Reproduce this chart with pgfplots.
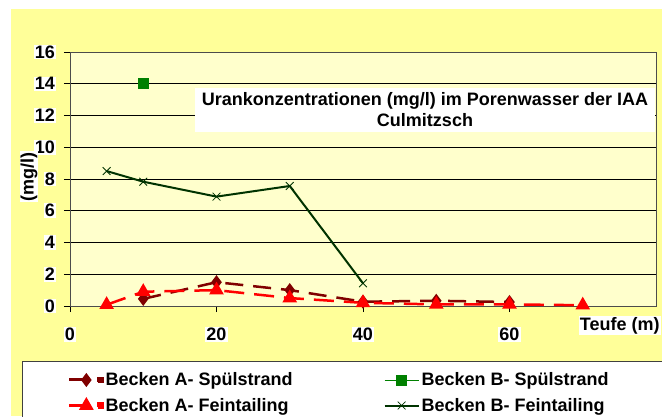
\documentclass[border=0pt]{standalone}
\usepackage{fontspec}
\setmainfont{Liberation Sans}
\usepackage{pgfplots}
\pgfplotsset{compat=1.18}
\definecolor{bgyellow}{HTML}{FFFF99}
\definecolor{plotyellow}{HTML}{FFFFCC}
\definecolor{darkred}{HTML}{800000}
\definecolor{darkgreen}{HTML}{003300}
\definecolor{midgreen}{HTML}{008000}
\newcommand\lf{\bfseries\fontsize{18}{21}\selectfont}
\begin{document}
\begin{tikzpicture}
\path[use as bounding box] (0,0) rectangle (662pt,416pt);
\clip (0,0) rectangle (662pt,416pt);
\fill[white] (0,0) rectangle (662pt,416pt);
\fill[bgyellow] (11pt,0) rectangle (662pt,407pt);
\draw[gray!50!black, fill=white, line width=0.8pt] (22pt,-10pt) rectangle (700pt,55pt);
\begin{axis}[
  at={(70pt,110pt)}, anchor=south west, scale only axis,
  width=586pt, height=254pt,
  xmin=0, xmax=80, ymin=0, ymax=16,
  xtick={0,20,40,60}, ytick={0,2,...,16},
  ymajorgrids, grid style={black, line width=0.6pt},
  axis background/.style={fill=plotyellow},
  axis line style={gray!60!black, line width=0.8pt},
  tick style={black, line width=0.6pt},
  tick align=outside, major tick length=6pt,
  xtick pos=left, ytick pos=left,
  /pgf/number format/assume math mode=true,
  ticklabel style={font=\lf, fill=white, inner sep=1pt},
  yticklabel style={xshift=-8pt},
  xticklabel style={yshift=-15pt},
  xlabel={Teufe (m)},
  xlabel style={at={(rel axis cs:0.868,-0.078)}, anchor=west, font=\lf, fill=white, inner sep=1pt},
  ylabel={(mg/l)},
  ylabel style={at={(rel axis cs:-0.070,0.508)}, anchor=center, font=\lf, fill=white, inner sep=1pt},
  clip=false,
  legend style={at={(rel axis cs:-0.004,-0.254)}, anchor=north west, draw=none, fill=none,
    font=\lf, inner sep=0pt, row sep=7pt,
    /tikz/every even column/.append style={column sep=89pt}},
  legend columns=2, legend cell align=left,
  legend image code/.code={\draw[mark repeat=2,mark phase=2] plot coordinates {(0pt,0pt) (17pt,0pt) (34pt,0pt)};},
]
\addplot[darkred, line width=2.5pt, dash pattern=on 18pt off 10pt, mark=diamond*, mark size=5pt, mark options={solid},
  legend image code/.code={\draw[solid, line width=3pt] (0pt,0pt)--(15pt,0pt); \draw[solid] plot coordinates {(17pt,0pt)}; \fill (29pt,-1.8pt) rectangle (33pt,1.8pt);}]
  coordinates {(10,0.45)(20,1.5)(30,1.0)(40,0.27)(50,0.33)(60,0.25)};
\addlegendentry{Becken A- Spülstrand}
\addplot[midgreen, line width=0.8pt, mark=square*, mark size=5pt]
  coordinates {(10,14.0)};
\addlegendentry{Becken B- Spülstrand}
\addplot[red, line width=2.5pt, dash pattern=on 20pt off 10pt, mark=triangle*, mark size=6pt, mark options={solid},
  legend image code/.code={\draw[solid, line width=3pt] (0pt,0pt)--(15pt,0pt); \draw[solid] plot coordinates {(17pt,0pt)}; \fill (29pt,-1.8pt) rectangle (33pt,1.8pt);}]
  coordinates {(5,0.08)(10,0.9)(20,1.0)(30,0.5)(40,0.2)(50,0.1)(60,0.1)(70,0.05)};
\addlegendentry{Becken A- Feintailing}
\addplot[darkgreen, line width=2pt, mark=x, mark size=5.5pt, mark options={line width=0.8pt}]
  coordinates {(5,8.5)(10,7.83)(20,6.89)(30,7.56)(40,1.43)};
\addlegendentry{Becken B- Feintailing}
\node[fill=white, font=\lf, align=center, minimum width=460pt, minimum height=44pt, inner sep=0pt]
  at (rel axis cs:0.6058,0.7717) {Urankonzentrationen (mg/l) im Porenwasser der IAA\\Culmitzsch};
\end{axis}
\end{tikzpicture}
\end{document}
